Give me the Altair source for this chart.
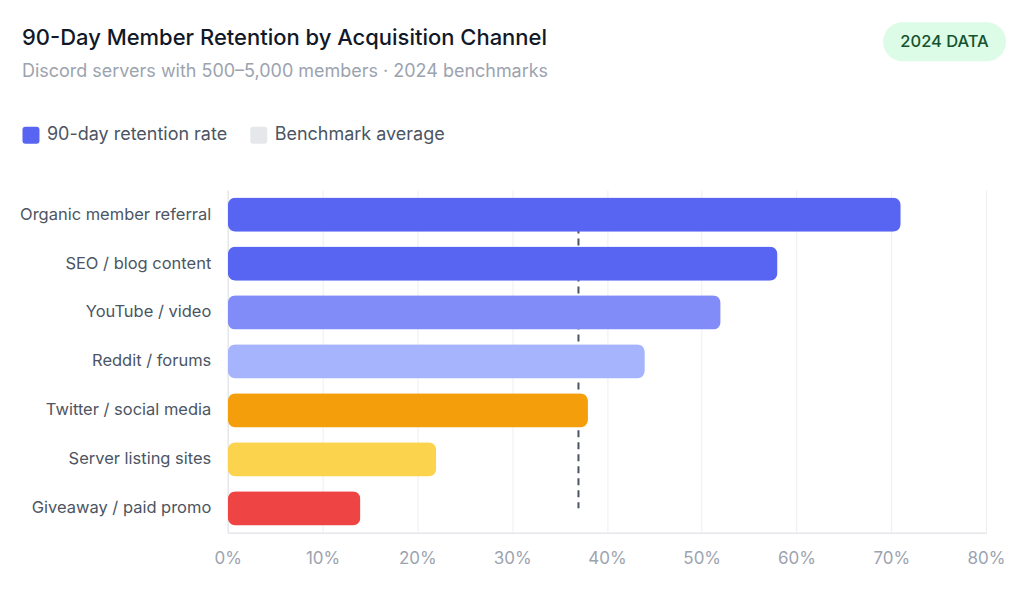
import altair as alt
import pandas as pd

# ---- data ----
channels = [
    "Organic member referral",
    "SEO / blog content",
    "YouTube / video",
    "Reddit / forums",
    "Twitter / social media",
    "Server listing sites",
    "Giveaway / paid promo",
]
retention = [0.71, 0.58, 0.52, 0.44, 0.38, 0.22, 0.14]
bar_colors = ["#5865F2", "#5865F2", "#818CF8", "#A5B4FC", "#F59E0B", "#FCD34D", "#EF4444"]
benchmark = 0.37
x_ticks = [0, 0.1, 0.2, 0.3, 0.4, 0.5, 0.6, 0.7, 0.8]
legend_names = ["90-day retention rate", "Benchmark average"]
legend_colors = ["#5865F2", "#E5E7EB"]
title_text = "90-Day Member Retention by Acquisition Channel"
subtitle_text = "Discord servers with 500–5,000 members · 2024 benchmarks"
badge_text = "2024 DATA"

FONT = "Inter"

bars_df = pd.DataFrame({"channel": channels, "value": retention, "color": bar_colors})
bench_df = pd.DataFrame({"channel": channels, "value": [benchmark] * len(channels),
                         "idx": list(range(len(channels)))})
legend_df = pd.DataFrame({"series": legend_names})
badge_df = pd.DataFrame({"label": [badge_text]})

y_enc = alt.Y(
    "channel:N",
    sort=channels,
    title=None,
    scale=alt.Scale(paddingInner=0.3, paddingOuter=0.15),
    axis=alt.Axis(
        labelFontSize=16.5, labelColor="#4B5563", labelFont=FONT,
        labelPadding=17, ticks=False, tickSize=0,
        domainColor="#E5E7EB", domainWidth=1.5, labelLimit=400, grid=False,
    ),
)
x_enc = alt.X(
    "value:Q",
    title=None,
    scale=alt.Scale(domain=[0, 0.8], nice=False),
    axis=alt.Axis(
        values=x_ticks, format=".0%", labelFontSize=17, labelColor="#9CA3AF",
        labelFont=FONT, labelPadding=18, ticks=False, tickSize=0,
        labelFlush=False, labelOverlap=False,
        domainColor="#E5E7EB", domainWidth=1.5, grid=True, gridColor="#EEEEEE",
    ),
)

bench = alt.Chart(bench_df).mark_line(
    color="#4B5563", strokeWidth=2, strokeDash=[7, 5]
).encode(x=x_enc, y=y_enc, order="idx:Q")

bars = alt.Chart(bars_df).mark_bar(cornerRadius=8).encode(
    x=x_enc,
    y=y_enc,
    fill=alt.Fill("color:N", scale=None),
)

rounded_square = ("M -0.65 -1 H 0.65 Q 1 -1 1 -0.65 V 0.65 Q 1 1 0.65 1 "
                  "H -0.65 Q -1 1 -1 0.65 V -0.65 Q -1 -1 -0.65 -1 Z")

legend_layer = alt.Chart(legend_df).mark_square(filled=True, size=1, opacity=0).encode(
    x=alt.value(10),
    y=alt.value(10),
    color=alt.Color(
        "series:N",
        sort=legend_names,
        scale=alt.Scale(domain=legend_names, range=legend_colors),
        legend=alt.Legend(
            title=None, orient="none", legendX=-206, legendY=-64,
            direction="horizontal", symbolType=rounded_square, symbolSize=289,
            symbolStrokeWidth=0, symbolOpacity=1, labelFontSize=18,
            labelColor="#4B5563", labelFont=FONT, labelOffset=7,
            columnPadding=22, padding=0, labelLimit=400,
        ),
    ),
)

badge_bg = alt.Chart(badge_df).mark_rect(
    cornerRadius=20, color="#DCFCE7"
).encode(x=alt.value(656), x2=alt.value(779), y=alt.value(-168), y2=alt.value(-129))

badge_txt = alt.Chart(badge_df).mark_text(
    font=FONT, fontSize=16.5, fontWeight=500, color="#14532D",
    align="center", baseline="middle",
).encode(x=alt.value(717.5), y=alt.value(-148), text="label:N")

chart = alt.layer(bench, bars, legend_layer, badge_bg, badge_txt).properties(
    width=759,
    height=343,
    title=alt.Title(
        text=title_text,
        subtitle=subtitle_text,
        anchor="start",
        frame="group",
        dx=-206,
        offset=-60,
        font=FONT,
        fontSize=22,
        fontWeight=500,
        color="#111827",
        subtitleFont=FONT,
        subtitleFontSize=18,
        subtitleColor="#9CA3AF",
        subtitlePadding=13,
    ),
    autosize=alt.AutoSizeParams(type="none"),
    padding={"left": 220, "top": 182, "right": 30, "bottom": 60},
    background="white",
).configure_view(stroke=None)

chart.save("out.html", embed_options={"renderer": "svg", "actions": False})
